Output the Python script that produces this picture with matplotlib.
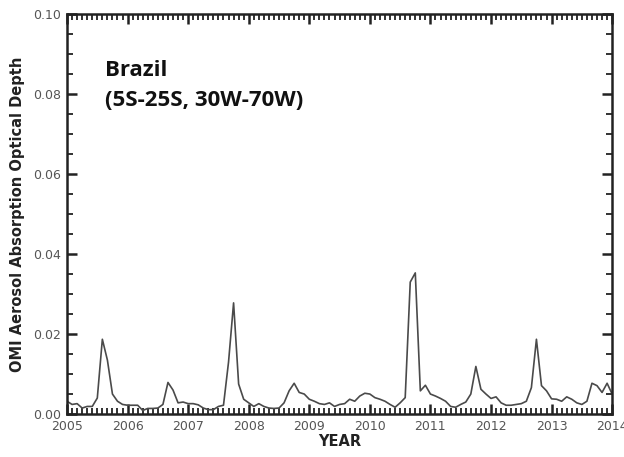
import numpy as np
import matplotlib
matplotlib.use('Agg')
import matplotlib.pyplot as plt
from matplotlib.ticker import MultipleLocator, FormatStrFormatter

# monthly OMI AAOD over Brazil, Jan 2005 .. Jan 2014
aaod_2005 = [0.0032, 0.0024, 0.0026, 0.0015, 0.0019, 0.0019, 0.0040, 0.0187, 0.0135, 0.0050, 0.0032, 0.0024]
aaod_2006 = [0.0022, 0.0022, 0.0022, 0.0009, 0.0014, 0.0014, 0.0015, 0.0024, 0.0079, 0.0060, 0.0028, 0.0030]
aaod_2007 = [0.0026, 0.0026, 0.0023, 0.0015, 0.0011, 0.0011, 0.0019, 0.0022, 0.0130, 0.0278, 0.0075, 0.0037]
aaod_2008 = [0.0028, 0.0019, 0.0026, 0.0019, 0.0015, 0.0014, 0.0015, 0.0028, 0.0058, 0.0077, 0.0054, 0.0050]
aaod_2009 = [0.0037, 0.0032, 0.0026, 0.0024, 0.0028, 0.0019, 0.0024, 0.0026, 0.0037, 0.0032, 0.0045, 0.0052]
aaod_2010 = [0.0050, 0.0041, 0.0037, 0.0032, 0.0024, 0.0017, 0.0028, 0.0041, 0.0330, 0.0353, 0.0058, 0.0072]
aaod_2011 = [0.0050, 0.0045, 0.0039, 0.0032, 0.0019, 0.0017, 0.0024, 0.0030, 0.0050, 0.0119, 0.0062, 0.0050]
aaod_2012 = [0.0039, 0.0043, 0.0028, 0.0022, 0.0022, 0.0024, 0.0026, 0.0032, 0.0066, 0.0187, 0.0071, 0.0058]
aaod_2013 = [0.0038, 0.0037, 0.0032, 0.0043, 0.0037, 0.0028, 0.0024, 0.0032, 0.0077, 0.0071, 0.0054, 0.0077]
aaod_2014 = [0.0050]

aaod = (aaod_2005 + aaod_2006 + aaod_2007 + aaod_2008 + aaod_2009 +
        aaod_2010 + aaod_2011 + aaod_2012 + aaod_2013 + aaod_2014)
years = 2005 + np.arange(len(aaod)) / 12.0
year_ticks = list(range(2005, 2015))

fig = plt.figure(figsize=(6.24, 4.57), dpi=100)
ax = fig.add_axes([0.1074, 0.094, 0.8736, 0.875])

ax.plot(years, aaod, color='#4a4a4a', lw=1.2)

ax.set_xlim(2005, 2014)
ax.set_ylim(0, 0.10)
ax.set_xticks(year_ticks)
ax.xaxis.set_minor_locator(MultipleLocator(1 / 12))
ax.yaxis.set_major_locator(MultipleLocator(0.02))
ax.yaxis.set_minor_locator(MultipleLocator(0.005))
ax.yaxis.set_major_formatter(FormatStrFormatter('%.2f'))

for s in ax.spines.values():
    s.set_linewidth(1.8)
    s.set_color('#222222')

ax.tick_params(which='both', direction='in', top=True, right=True, color='#222222')
ax.tick_params(which='major', length=7, width=1.8, labelsize=9, labelcolor='#555555', pad=4)
ax.tick_params(which='minor', length=4, width=1.3)

ax.set_xlabel('YEAR', fontsize=10.5, fontweight='bold', color='#222222', labelpad=1)
ax.set_ylabel('OMI Aerosol Absorption Optical Depth', fontsize=10.5, fontweight='bold',
              color='#222222', labelpad=6)

ax.text(2005.62, 0.086, 'Brazil', fontsize=16, fontweight='bold', family='Open Sans',
        color='#111111', va='center')
ax.text(2005.62, 0.0785, '(5S-25S, 30W-70W)', fontsize=16, fontweight='bold',
        family='Open Sans', color='#111111', va='center')

fig.savefig('out.png', dpi=100)
